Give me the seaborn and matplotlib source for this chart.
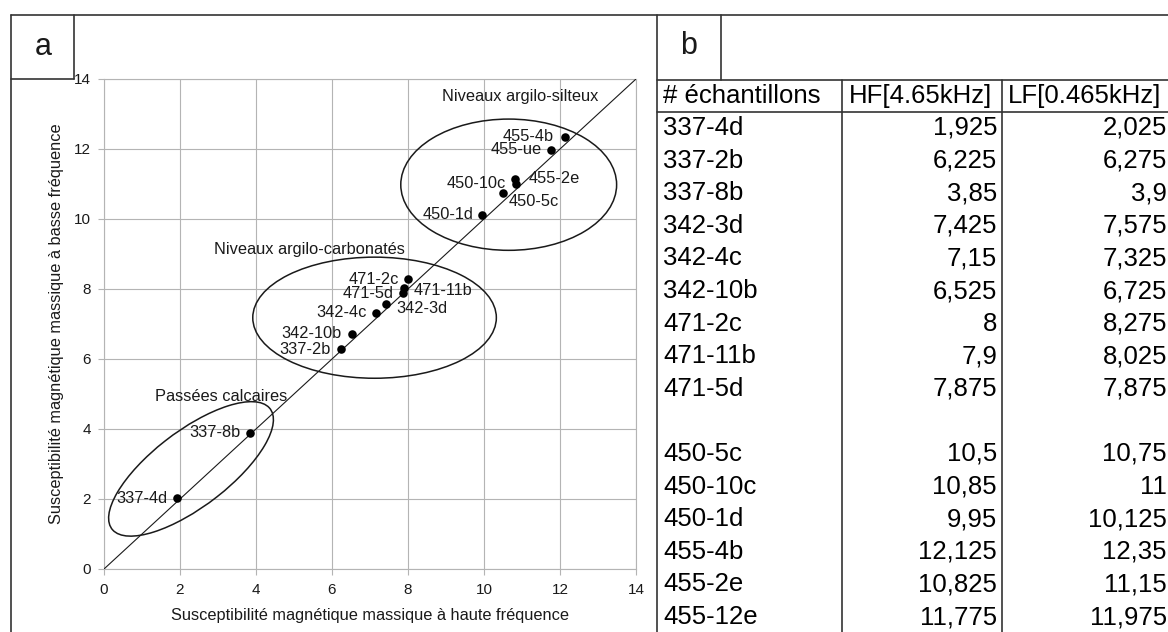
import matplotlib
matplotlib.use("Agg")
import matplotlib.pyplot as plt
from matplotlib.patches import Ellipse
from matplotlib.lines import Line2D
import seaborn as sns
import pandas as pd

# ---------------- data ----------------
samples = ["337-4d", "337-2b", "337-8b", "342-3d", "342-4c", "342-10b",
           "471-2c", "471-11b", "471-5d",
           "450-5c", "450-10c", "450-1d", "455-4b", "455-2e", "455-12e"]
plot_labels = ["337-4d", "337-2b", "337-8b", "342-3d", "342-4c", "342-10b",
               "471-2c", "471-11b", "471-5d",
               "450-5c", "450-10c", "450-1d", "455-4b", "455-2e", "455-ue"]
hf = [1.925, 6.225, 3.85, 7.425, 7.15, 6.525, 8, 7.9, 7.875,
      10.5, 10.85, 9.95, 12.125, 10.825, 11.775]
lf = [2.025, 6.275, 3.9, 7.575, 7.325, 6.725, 8.275, 8.025, 7.875,
      10.75, 11, 10.125, 12.35, 11.15, 11.975]
header = ["# échantillons", "HF[4.65kHz]", "LF[0.465kHz]"]
group_names = ["Niveaux argilo-silteux", "Niveaux argilo-carbonatés", "Passées calcaires"]
xlabel = "Susceptibilité magnétique massique à haute fréquence"
ylabel = "Susceptibilité magnétique massique à basse fréquence"
ticks = [0, 2, 4, 6, 8, 10, 12, 14]
panel_letters = ["a", "b"]

# ---------------- style / layout ----------------
sns.set_theme(style="white")
plt.rcParams["font.family"] = ["Liberation Sans", "DejaVu Sans"]
TXT = "#1a1a1a"
GRID = "#b4b4b4"
LINE = "#333333"
LFS = 11.8

W, H = 1168, 632
fig = plt.figure(figsize=(W / 100, H / 100), dpi=100)
fig.patch.set_facecolor("white")

def fx(x):
    return x / W

def fy(y):
    return 1 - y / H

def fline(x0, y0, x1, y1, lw=1.2):
    fig.add_artist(Line2D([fx(x0), fx(x1)], [fy(y0), fy(y1)],
                          transform=fig.transFigure, color=LINE, lw=lw))

ax = fig.add_axes([fx(104), fy(569), (636 - 104) / W, (569 - 79) / H])
df = pd.DataFrame({"hf": hf, "lf": lf, "name": samples})

ax.set_xlim(0, 14)
ax.set_ylim(0, 14)
ax.set_xticks(ticks)
ax.set_yticks(ticks)
ax.grid(True, color=GRID, lw=0.8)
for s in ax.spines.values():
    s.set_color(GRID)
    s.set_linewidth(0.8)
ax.tick_params(axis="both", which="both", length=4, width=0.8, color=GRID,
               labelsize=11, labelcolor=TXT, direction="out",
               bottom=True, left=True)
ax.tick_params(axis="x", pad=6)
ax.tick_params(axis="y", pad=5.5)

# 1:1 line
ax.plot([ticks[0], ticks[-1]], [ticks[0], ticks[-1]], color="#1a1a1a", lw=0.8, zorder=3)

sns.scatterplot(data=df, x="hf", y="lf", color="black", s=38, edgecolor="black",
                linewidth=0, ax=ax, zorder=5, legend=False)

# label offsets in pixels (dx, dy, ha)
offsets = {
    "337-4d": (-10, 0, "right"), "337-2b": (-10, 0, "right"),
    "337-8b": (-10, 0, "right"), "342-3d": (10, -5, "left"),
    "342-4c": (-9, 0, "right"), "342-10b": (-10, 0, "right"),
    "471-2c": (-9, 0, "right"), "471-11b": (9, -2, "left"),
    "471-5d": (-10, 0, "right"), "450-5c": (6, -9, "left"),
    "450-10c": (-10, 0, "right"), "450-1d": (-9, 0, "right"),
    "455-4b": (-11, 0, "right"), "455-2e": (13, 0, "left"),
    "455-12e": (-10, 0, "right"),
}
for name, lab, x, y in zip(samples, plot_labels, hf, lf):
    dx, dy, ha = offsets[name]
    ax.annotate(lab, (x, y), xytext=(dx, dy), textcoords="offset pixels",
                ha=ha, va="center", fontsize=LFS, color=TXT, zorder=6)

# group ellipses and titles
ell_specs = [((10.65, 10.98), 5.68, 3.75, 0),
             ((7.12, 7.18), 6.41, 3.46, 0),
             ((2.29, 2.86), 5.4, 2.1, 40.3)]
title_pos = [(8.89, 13.50), (2.90, 9.13), (1.34, 4.94)]
for (c, w, h, a), name, (tx, ty) in zip(ell_specs, group_names, title_pos):
    ax.add_patch(Ellipse(c, w, h, angle=a, fill=False, ec="#1a1a1a", lw=1.1, zorder=4))
    ax.text(tx, ty, name, ha="left", va="center", fontsize=LFS, color=TXT, zorder=6)

ax.set_xlabel(xlabel, fontsize=LFS, color=TXT)
ax.set_ylabel(ylabel, fontsize=LFS, color=TXT)
ax.xaxis.set_label_coords(0.5, -0.080)
ax.yaxis.set_label_coords(-0.075, 0.5)

# ---------------- frames ----------------
fline(11, 15, W, 15)            # top border
fline(11, 15, 11, H)            # left border
fline(74, 15, 74, 79)           # box a
fline(11, 79, 74, 79)
fline(657, 15, 657, H)          # panel separator
fline(721, 15, 721, 80)         # box b
fline(657, 80, W, 80)           # table header top
fline(657, 112, W, 112)         # table header bottom
fline(842, 80, 842, H)
fline(1002, 80, 1002, H)

fig.text(fx(43), fy(47), panel_letters[0], ha="center", va="center", fontsize=22, color=TXT)
fig.text(fx(689), fy(46), panel_letters[1], ha="center", va="center", fontsize=22, color=TXT)

# ---------------- table ----------------
TFS = 18.5
fig.text(fx(663), fy(96), header[0], ha="left", va="center", fontsize=TFS, color="black")
fig.text(fx(849), fy(96), header[1], ha="left", va="center", fontsize=TFS, color="black")
fig.text(fx(1008), fy(96), header[2], ha="left", va="center", fontsize=TFS, color="black")

def fmt(v):
    return f"{v:g}".replace(".", ",")

row = 0
for i, (name, a, b) in enumerate(zip(samples, hf, lf)):
    if i == 9:
        row += 1  # blank separator row
    yc = 128 + 32.6 * row
    fig.text(fx(663), fy(yc), name, ha="left", va="center", fontsize=TFS, color="black")
    fig.text(fx(997), fy(yc), fmt(a), ha="right", va="center", fontsize=TFS, color="black")
    fig.text(fx(1167), fy(yc), fmt(b), ha="right", va="center", fontsize=TFS, color="black")
    row += 1

fig.savefig("out.png", dpi=100, facecolor="white")
